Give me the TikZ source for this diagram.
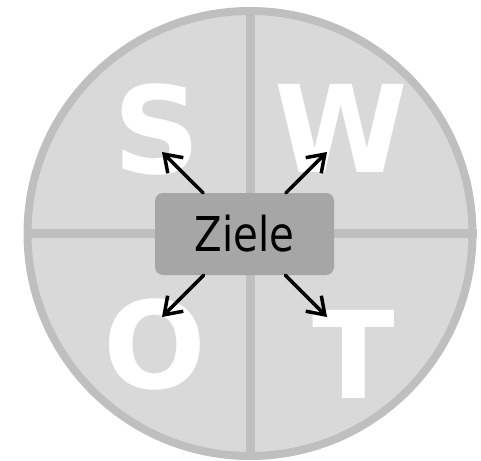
\documentclass[tikz,border=0pt]{standalone}
\usepackage{fontspec}
\usetikzlibrary{arrows.meta,positioning}
\newfontfamily\swotfont[FakeStretch=0.84]{DejaVu Sans}
\newfontfamily\letterfont{DejaVu Sans}
\definecolor{swotfill}{HTML}{D9D9D9}
\definecolor{swotline}{HTML}{BFBFBF}
\definecolor{swotbox}{HTML}{A6A6A6}
\tikzset{
  wheel/.style={
    circle,
    draw=swotline,
    fill=swotfill,
    line width=8pt,
    minimum size=445pt,
    inner sep=0pt
  },
  divider/.style={
    draw=swotline,
    line width=9pt
  },
  zielbox/.style={
    rounded corners=8pt,
    fill=swotbox,
    minimum width=179pt,
    minimum height=82pt,
    inner sep=0pt,
    font=\swotfont\fontsize{48}{48}\selectfont
  },
  letter/.style={
    text=white,
    inner sep=0pt,
    anchor=base,
    font=\letterfont\bfseries\fontsize{121}{121}\selectfont
  },
  arrow/.style={
    -{Straight Barb[length=16pt,width=22pt]},
    line width=3.5pt,
    line cap=round,
    draw=black
  }
}

\begin{document}
\begin{tikzpicture}[x=1pt,y=-1pt]
\useasboundingbox (0,0) rectangle (481,460);
\node[wheel] (rad) at (250,233.5) {};
\draw[divider] (rad.north) -- (rad.south);
\draw[divider] (rad.west) -- (rad.east);
\node[letter] (s) at (157,173) {S};
\node[letter] (w) at (341,172) {W};
\node[letter] (o) at (155,388) {O};
\node[letter] (t) at (354,398) {T};
\node[zielbox] (ziele) at (244.5,234) {Ziele};
\coordinate[above left=82pt and 82.5pt of ziele.center] (tipS);
\coordinate[above right=82pt and 82.5pt of ziele.center] (tipW);
\coordinate[below left=83pt and 82.5pt of ziele.center] (tipO);
\coordinate[below right=83pt and 82.5pt of ziele.center] (tipT);
\foreach \t in {tipS,tipW,tipO,tipT} {
  \draw[arrow] (ziele) -- (\t);
}
\end{tikzpicture}
\end{document}
